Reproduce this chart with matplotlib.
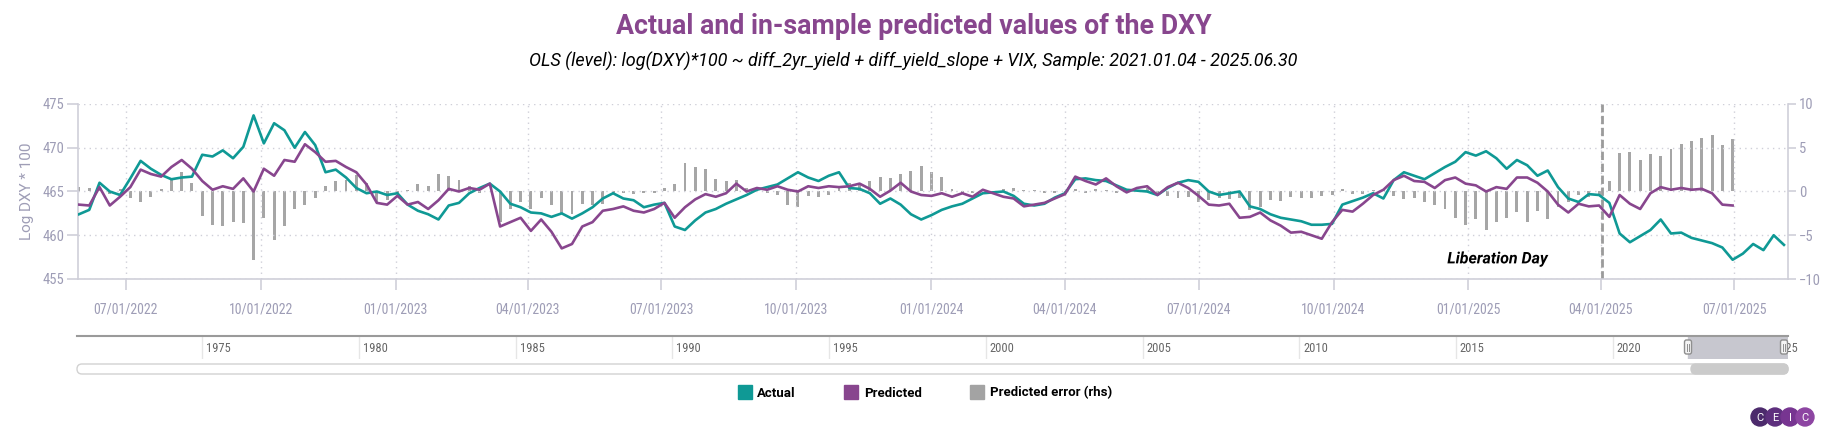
import pandas as pd
import matplotlib
matplotlib.use("Agg")
import matplotlib.pyplot as plt
import matplotlib.dates as mdates
import matplotlib.patheffects as pe
from matplotlib.lines import Line2D
from matplotlib.patches import FancyBboxPatch, Circle
from matplotlib import transforms as mtransforms

plt.rcParams['font.family'] = ['Roboto', 'DejaVu Sans']
NARROW = ['Roboto Condensed', 'Liberation Sans Narrow', 'Roboto', 'DejaVu Sans']

dates = pd.date_range("2022-05-30", "2025-08-04", freq="W-MON")

actual = [
    462.4, 462.9, 466.0, 465.0, 464.6, 466.5, 468.5, 467.6, 466.9, 466.4,
    466.6, 466.7, 469.2, 469.0, 469.7, 468.8, 470.1, 473.7, 470.5, 472.8,
    472.0, 470.0, 471.8, 470.3, 467.2, 467.5, 466.6, 465.4, 464.8, 465.0,
    464.6, 464.8, 463.5, 462.8, 462.4, 461.8, 463.4, 463.7, 464.8, 465.4,
    465.9, 465.0, 463.6, 463.2, 462.6, 462.5, 462.1, 462.5, 461.9, 462.5,
    463.2, 464.2, 464.8, 464.2, 464.0, 463.2, 463.5, 463.7, 461.0, 460.6,
    461.7, 462.6, 463.0, 463.6, 464.1, 464.6, 465.2, 465.5, 465.8, 466.5,
    467.2, 466.6, 466.2, 466.8, 467.2, 465.4, 465.3, 464.8, 463.6, 464.2,
    463.5, 462.4, 461.8, 462.3, 462.9, 463.3, 463.6, 464.2, 464.8, 464.9,
    465.0, 464.5, 463.6, 463.4, 463.6, 464.3, 464.8, 466.4, 466.5, 466.3,
    466.2, 465.7, 465.2, 465.1, 465.0, 464.6, 465.4, 466.0, 466.3, 466.1,
    465.0, 464.6, 464.8, 465.0, 463.3, 463.0, 462.4, 462.0, 461.8, 461.6,
    461.2, 461.2, 461.3, 463.5, 463.9, 464.3, 464.8, 464.2, 466.3, 467.2,
    466.8, 466.4, 467.1, 467.8, 468.4, 469.5, 469.1, 469.6, 468.8, 467.6,
    468.6, 468.0, 466.8, 467.4, 465.5, 464.2, 463.8, 464.7, 464.6, 463.7,
    460.2, 459.2, 459.9, 460.6, 461.8, 460.2, 460.3, 459.7, 459.4, 459.1,
    458.6, 457.2, 457.9, 459.0, 458.3, 460.0, 458.9,
]

predicted = [
    463.5, 463.4, 465.5, 463.4, 464.4, 465.5, 467.5, 467.0, 466.7, 467.8,
    468.6, 467.6, 466.2, 465.2, 465.6, 465.3, 466.5, 465.0, 467.6, 466.8,
    468.6, 468.4, 470.4, 469.5, 468.4, 468.5, 467.8, 467.2, 465.8, 463.7,
    463.5, 464.5, 463.5, 463.8, 463.0, 464.0, 465.3, 465.0, 465.4, 465.2,
    465.9, 461.0, 461.5, 462.0, 460.5, 461.8, 460.4, 458.5, 459.0, 461.0,
    461.5, 462.8, 463.0, 463.3, 462.8, 462.6, 463.0, 463.7, 462.0, 463.2,
    464.1, 464.7, 464.4, 464.8, 465.9, 465.0, 465.4, 465.2, 465.6, 465.2,
    465.0, 465.6, 465.4, 465.6, 465.5, 465.6, 465.9, 465.3, 464.4, 465.1,
    466.0, 465.0, 464.6, 464.5, 464.8, 464.4, 464.8, 464.4, 465.2, 464.8,
    464.4, 464.2, 463.3, 463.5, 463.7, 464.2, 464.7, 466.7, 466.2, 465.8,
    466.5, 465.6, 464.9, 465.4, 465.6, 464.6, 465.5, 466.0, 465.4, 464.5,
    463.5, 463.4, 463.6, 462.0, 462.1, 462.6, 461.7, 461.1, 460.3, 460.4,
    460.0, 459.6, 461.5, 462.9, 462.7, 463.6, 464.6, 465.2, 466.3, 466.8,
    466.2, 466.1, 465.4, 466.3, 466.6, 465.9, 465.7, 465.0, 465.5, 465.3,
    466.6, 466.6, 466.0, 465.0, 463.5, 462.6, 463.6, 463.3, 463.4, 462.1,
    464.6, 463.6, 463.0, 464.8, 465.5, 465.2, 465.4, 465.2, 465.3, 464.8,
    463.5, 463.4,
]

pred_error = [
    0.5, 0.4, 0.5, -0.3, 0.3, -0.8, -1.2, -0.6, 0.3, 1.4,
    2.2, 1.0, -2.8, -3.8, -4.0, -3.5, -3.6, -7.8, -3.0, -5.5,
    -4.0, -2.0, -1.5, -0.8, 0.6, 1.2, 1.3, 1.9, 1.0, -1.2,
    -1.0, -0.3, 0.2, 0.8, 0.6, 2.0, 1.8, 1.3, 0.6, -0.2,
    0.0, -3.5, -2.0, -1.2, -2.0, -0.8, -1.6, -2.5, -2.6, -1.4,
    -1.6, -1.4, -0.2, -0.2, -0.3, -0.2, -0.2, 0.4, 0.8, 3.2,
    2.8, 2.6, 1.4, 1.2, 1.3, 0.4, 0.3, -0.2, -0.4, -1.5,
    -1.8, -0.5, -0.6, -0.4, 0.6, 1.0, 0.8, 1.2, 1.6, 1.5,
    2.0, 2.3, 2.9, 2.2, 1.6, 0.3, -0.2, -0.2, 0.2, -0.1,
    0.3, 0.4, 0.2, 0.2, -0.2, -0.2, -0.3, 0.3, -0.2, 0.3,
    0.2, -0.2, 0.3, 0.2, 0.4, -0.2, -0.5, -0.8, -0.6, -1.2,
    -1.0, -0.8, -0.9, -0.7, -2.1, -1.8, -1.0, -1.1, -0.6, -0.8,
    -0.7, -0.5, -0.4, 0.3, -0.3, -0.3, 0.2, 0.3, -0.5, -0.9,
    -0.8, -1.2, -1.5, -2.0, -3.0, -3.8, -3.2, -4.4, -3.5, -3.0,
    -2.4, -3.5, -2.2, -3.1, -1.8, -1.2, -0.4, -0.6, -0.5, 1.2,
    4.4, 4.5, 3.6, 4.3, 4.1, 4.8, 5.4, 5.8, 6.1, 6.4,
    5.3, 6.0,
]

pred_dates = dates[:len(predicted)]
liberation_day = pd.Timestamp("2025-04-02")
view_start = pd.Timestamp("2022-05-29 08:00")
view_end = pd.Timestamp("2025-08-06 18:00")
nav_start = pd.Timestamp("1971-01-01")
nav_years = list(range(1975, 2026, 5))

TEAL = "#0f9995"
PURPLE = "#88468e"
GREY_BAR = "#a6a6a6"
AXIS_TXT = "#9e9db6"
AXIS_LINE = "#cfcfd9"

W, H = 1827, 436
fig = plt.figure(figsize=(W / 100, H / 100), dpi=100)

# main chart
ax = fig.add_axes([78 / W, 1 - 279 / H, (1788 - 78) / W, (279 - 104) / H])
ax2 = ax.twinx()
ax.set_zorder(ax2.get_zorder() + 1)
ax.patch.set_visible(False)

ax2.bar(pred_dates, pred_error, width=2.0, color=GREY_BAR, zorder=1)
ax.plot(dates, actual, color=TEAL, lw=1.9, zorder=3)
ax.plot(pred_dates, predicted, color=PURPLE, lw=1.9, zorder=4)

ax.set_xlim(view_start, view_end)
ax.set_ylim(455, 475)
ax.set_yticks([455, 460, 465, 470, 475])
ax2.set_ylim(-10, 10)
ax2.set_yticks([-10, -5, 0, 5, 10])

qticks = pd.date_range("2022-07-01", "2025-07-01", freq="QS")
ax.set_xticks(qticks)
ax.xaxis.set_major_formatter(mdates.DateFormatter("%m/%d/%Y"))

ax.grid(True, linestyle=(0, (1, 3)), color="#cfcfd8", lw=1)
ax.set_axisbelow(True)

for a in (ax, ax2):
    a.spines["top"].set_visible(False)
    for s in a.spines.values():
        s.set_color(AXIS_LINE)
        s.set_linewidth(1.2)
ax.spines["right"].set_visible(False)
ax2.spines["left"].set_visible(False)
ax2.spines["bottom"].set_visible(False)

ax.tick_params(axis="x", length=8, width=1.2, color=AXIS_LINE, labelcolor=AXIS_TXT,
               labelsize=10, pad=9)
ax.tick_params(axis="y", length=8, width=1.2, color=AXIS_LINE, labelcolor=AXIS_TXT,
               labelsize=10.5, pad=2)
ax2.tick_params(axis="y", length=6, width=1.2, color=AXIS_LINE, labelcolor=AXIS_TXT,
                labelsize=10.5, pad=2)
for lab in ax.get_xticklabels() + ax.get_yticklabels() + ax2.get_yticklabels():
    lab.set_family(NARROW)
ax.set_ylabel("Log DXY * 100", color=AXIS_TXT, fontsize=11, labelpad=6)

ax.axvline(liberation_day, color="#9b9b9b", lw=2, ls=(0, (3, 1.3)), zorder=2)
ax.annotate("Liberation Day", xy=(liberation_day, 457.3), xytext=(-54, 0),
            textcoords="offset pixels", ha="right", va="center",
            fontsize=11.5, fontweight="bold", fontstyle="italic", color="black",
            path_effects=[pe.withStroke(linewidth=3, foreground="white")])

# titles
fig.text(0.5, 1 - 26 / H, "Actual and in-sample predicted values of the DXY",
         ha="center", va="center", fontsize=19.3, fontweight="bold", color=PURPLE)
fig.text(0.5, 1 - 61 / H,
         "OLS (level): log(DXY)*100 ~ diff_2yr_yield + diff_yield_slope + VIX, "
         "Sample: 2021.01.04 - 2025.06.30",
         ha="center", va="center", fontsize=13, fontstyle="italic", color="black")

# navigator strip
nav = fig.add_axes([77 / W, 1 - 359 / H, (1788 - 77) / W, 23 / H])
nav.set_xlim(nav_start, view_end)
nav.set_ylim(0, 1)
nav.set_yticks([])
year_ticks = [pd.Timestamp(f"{y}-01-01") for y in nav_years]
nav.set_xticks(year_ticks)
nav.set_xticklabels([])
nav.tick_params(axis="x", length=0)
nav.grid(axis="x", color="#e6e6e6", lw=1)
for s in ("left", "right", "bottom"):
    nav.spines[s].set_visible(False)
nav.spines["top"].set_color("#9a9a9a")
nav.spines["top"].set_linewidth(1.5)
nav.axvspan(view_start, view_end, color="#c7c7cf", zorder=2)
trans = mtransforms.offset_copy(nav.get_xaxis_transform(), fig=fig, x=4, y=0, units="dots")
for y, d in zip(nav_years, year_ticks):
    nav.text(d, 0.45, str(y), transform=trans, ha="left", va="center",
             fontsize=9, family=NARROW, color="#666666", zorder=1)

# overlay in pixel coordinates for chrome (handles, scrollbar, logo)
over = fig.add_axes([0, 0, 1, 1], zorder=20)
over.set_xlim(0, W)
over.set_ylim(H, 0)
over.axis("off")

fig.canvas.draw()
sel_l = nav.transData.transform((mdates.date2num(view_start), 0))[0]
sel_r = nav.transData.transform((mdates.date2num(view_end), 0))[0]
for hx in (sel_l, sel_r - 4):
    over.add_patch(FancyBboxPatch((hx - 3.5, 340), 7, 14,
                                  boxstyle="round,pad=0,rounding_size=2",
                                  fc="#f4f4f4", ec="#8f8f8f", lw=1))
    over.plot([hx - 0.8, hx - 0.8], [343.5, 350.5], color="#8f8f8f", lw=0.7)
    over.plot([hx + 0.8, hx + 0.8], [343.5, 350.5], color="#8f8f8f", lw=0.7)

over.add_patch(FancyBboxPatch((77, 364), 1711, 10, boxstyle="round,pad=0,rounding_size=5",
                              fc="white", ec="#d2d2d2", lw=1))
over.add_patch(FancyBboxPatch((sel_l + 3, 364), sel_r - sel_l - 3, 10,
                              boxstyle="round,pad=0,rounding_size=5",
                              fc="#cbcbcb", ec="#cbcbcb", lw=1))

# legend
handles = [Line2D([], [], marker="s", ls="none", markersize=10, markerfacecolor=c,
                  markeredgecolor=c) for c in (TEAL, PURPLE, "#a3a3a3")]
fig.legend(handles, ["Actual", "Predicted", "Predicted error (rhs)"], loc="center",
           bbox_to_anchor=(925 / W, 1 - 393 / H), ncol=3, frameon=False,
           prop=dict(weight="bold", size=9.5), handlelength=1.0, handletextpad=0.45,
           columnspacing=3.7)

# CEIC logo
for cx, letter, col in zip([1760, 1775, 1790, 1805], "CEIC",
                           ["#4c2a6c", "#5e2f7e", "#773591", "#8d45a2"]):
    over.add_patch(Circle((cx, 417), 9, color=col))
    over.text(cx, 417.5, letter, ha="center", va="center", color="white", fontsize=8)

fig.savefig("out.png", dpi=100)
